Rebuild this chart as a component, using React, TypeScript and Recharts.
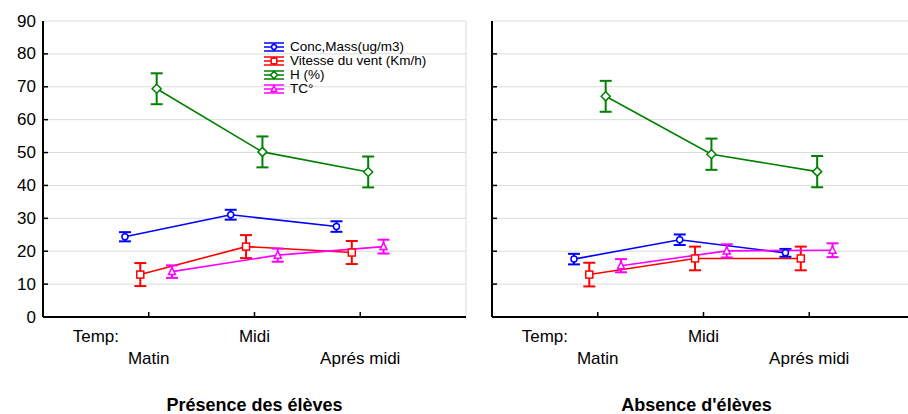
import { CartesianGrid, ErrorBar, Legend, Line, LineChart, XAxis, YAxis } from 'recharts';

const FONT = '"Liberation Sans", Arial, sans-serif';

// catégories de l'axe X (Temp: est juste une étiquette)
const CATEGORIES = ['Matin', 'Midi', 'Aprés midi'];
const X_LABEL_TICKS = [0.5, 1, 2, 3];
const X_GRID_TICKS = [1, 2, 3];
const Y_TICKS = [0, 10, 20, 30, 40, 50, 60, 70, 80, 90];

// Présence des élèves
const concPresence = [24.4, 31.1, 27.5];
const concPresenceErr = [1.4, 1.5, 1.6];
const ventPresence = [12.9, 21.4, 19.6];
const ventPresenceErr = [3.5, 3.5, 3.5];
const hPresence = [69.4, 50.2, 44.1];
const hPresenceErr = [4.7, 4.7, 4.7];
const tcPresence = [13.8, 18.8, 21.4];
const tcPresenceErr = [1.9, 2.0, 2.1];

// Absence d'élèves
const concAbsence = [17.6, 23.5, 19.5];
const concAbsenceErr = [1.6, 1.6, 1.2];
const ventAbsence = [12.9, 17.8, 17.8];
const ventAbsenceErr = [3.6, 3.6, 3.6];
const hAbsence = [67.1, 49.5, 44.2];
const hAbsenceErr = [4.7, 4.75, 4.75];
const tcAbsence = [15.6, 20.1, 20.3];
const tcAbsenceErr = [2.0, 2.0, 2.1];

// décalage horizontal de chaque série autour de la catégorie
const SERIES = [
  { key: 'conc', name: 'Conc,Mass(ug/m3)', color: '#0000ff', shape: 'circle', shift: -0.225 },
  { key: 'vent', name: 'Vitesse du vent (Km/h)', color: '#ff0000', shape: 'square', shift: -0.08 },
  { key: 'h', name: 'H (%)', color: '#008000', shape: 'diamond', shift: 0.075 },
  { key: 'tc', name: 'TC°', color: '#ff00ff', shape: 'triangle', shift: 0.22 },
];

const PRESENCE: Record<string, [number[], number[]]> = {
  conc: [concPresence, concPresenceErr],
  vent: [ventPresence, ventPresenceErr],
  h: [hPresence, hPresenceErr],
  tc: [tcPresence, tcPresenceErr],
};

const ABSENCE: Record<string, [number[], number[]]> = {
  conc: [concAbsence, concAbsenceErr],
  vent: [ventAbsence, ventAbsenceErr],
  h: [hAbsence, hAbsenceErr],
  tc: [tcAbsence, tcAbsenceErr],
};

function buildRows(values: number[], errs: number[], shift: number) {
  return CATEGORIES.map((cat, i) => ({ cat, x: i + 1 + shift, y: values[i], err: errs[i] }));
}

function Marker({ shape, color, cx, cy, size = 1 }: any) {
  if (cx == null || cy == null) return null;
  const p = { fill: '#fff', stroke: color, strokeWidth: 1.5 };
  const k = size;
  if (shape === 'circle') return <circle cx={cx} cy={cy} r={3 * k} {...p} />;
  if (shape === 'square') return <rect x={cx - 3.5 * k} y={cy - 3.5 * k} width={7 * k} height={7 * k} {...p} />;
  if (shape === 'diamond')
    return <polygon points={`${cx},${cy - 4.5 * k} ${cx + 4.5 * k},${cy} ${cx},${cy + 4.5 * k} ${cx - 4.5 * k},${cy}`} {...p} />;
  return <polygon points={`${cx},${cy - 4 * k} ${cx + 3.5 * k},${cy + 3 * k} ${cx - 3.5 * k},${cy + 3 * k}`} {...p} />;
}

function LeftTick({ x, y, payload, showLabel }: any) {
  const v = payload.value;
  return (
    <g>
      {v > 0 && v < 90 && <line x1={x} y1={y} x2={x + 5} y2={y} stroke="#000" strokeWidth={1.5} />}
      {showLabel && (
        <text x={x - 7} y={y} textAnchor="end" dominantBaseline="central" fontSize={17} fontFamily={FONT} fill="#000">
          {v}
        </text>
      )}
    </g>
  );
}

function RightTick({ x, y, payload }: any) {
  const v = payload.value;
  if (v <= 0 || v >= 90) return <g />;
  return <line x1={x - 5} y1={y} x2={x} y2={y} stroke="#000" strokeWidth={1.5} />;
}

function TopTick({ x, y }: any) {
  return <line x1={x} y1={y} x2={x} y2={y + 5} stroke="#000" strokeWidth={1.5} />;
}

function BottomTick({ x, y, payload, index }: any) {
  const v = payload.value;
  const label = v === 0.5 ? 'Temp:' : CATEGORIES[v - 1];
  const row = index % 2;
  return (
    <g>
      {v !== 0.5 && <line x1={x} y1={y} x2={x} y2={y - 5} stroke="#000" strokeWidth={1.5} />}
      <text x={x} y={y + 19 + row * 22} textAnchor="middle" dominantBaseline="central" fontSize={17} fontFamily={FONT} fill="#000">
        {label}
      </text>
    </g>
  );
}

function TitleLabel({ viewBox, text, dx }: any) {
  const { x, y, width, height } = viewBox;
  return (
    <text x={x + width / 2 + dx} y={y + height - 3} textAnchor="middle" fontSize={18} fontWeight={700} fontFamily={FONT} fill="#000">
      {text}
    </text>
  );
}

// légende : même ordre que les séries (le tri par défaut de Recharts est alphabétique)
function ErrLegend({ payload }: any) {
  const entries = (payload || [])
    .map((entry: any) => SERIES.find((it) => it.name === entry.value))
    .filter(Boolean)
    .sort((a: any, b: any) => SERIES.indexOf(a) - SERIES.indexOf(b));
  return (
    <div style={{ fontFamily: FONT, fontSize: 13.5, color: '#000' }}>
      {entries.map((s: any) => (
        <div key={s.key} style={{ display: 'flex', alignItems: 'center', height: 14, lineHeight: '14px', whiteSpace: 'nowrap' }}>
          <svg width={22} height={14} style={{ marginRight: 5 }}>
            <g stroke={s.color} strokeWidth={1.5}>
              <line x1={1} y1={3} x2={21} y2={3} />
              <line x1={1} y1={7} x2={21} y2={7} />
              <line x1={1} y1={11} x2={21} y2={11} />
              <line x1={11} y1={3} x2={11} y2={11} />
            </g>
            <Marker shape={s.shape} color={s.color} cx={11} cy={7} size={0.8} />
          </svg>
          <span>{s.name}</span>
        </div>
      ))}
    </div>
  );
}

const axisLine = { stroke: '#000', strokeWidth: 2 };

function Panel({ data, title, showYLabels, showLegend, titleDx }: any) {
  return (
    <LineChart width={480} height={414} margin={{ top: 21, right: 14, bottom: 0, left: 0 }}>
      <CartesianGrid xAxisId="top" stroke="#dcdcdc" strokeWidth={1} />
      <XAxis
        type="number"
        dataKey="x"
        domain={[0, 4]}
        ticks={X_LABEL_TICKS}
        interval={0}
        height={97}
        tickSize={0}
        tickMargin={0}
        tickLine={false}
        axisLine={axisLine}
        tick={<BottomTick />}
        label={<TitleLabel text={title} dx={titleDx} />}
        allowDataOverflow
      />
      <XAxis
        xAxisId="top"
        orientation="top"
        type="number"
        dataKey="x"
        domain={[0, 4]}
        ticks={X_GRID_TICKS}
        interval={0}
        height={0}
        tickSize={0}
        tickMargin={0}
        tickLine={false}
        axisLine={axisLine}
        tick={<TopTick />}
      />
      <YAxis
        domain={[0, 90]}
        ticks={Y_TICKS}
        interval={0}
        width={43}
        tickSize={0}
        tickMargin={0}
        tickLine={false}
        axisLine={axisLine}
        tick={<LeftTick showLabel={showYLabels} />}
      />
      <YAxis
        yAxisId="right"
        orientation="right"
        domain={[0, 90]}
        ticks={Y_TICKS}
        interval={0}
        width={0}
        tickSize={0}
        tickMargin={0}
        tickLine={false}
        axisLine={axisLine}
        tick={<RightTick />}
      />
      {showLegend && (
        <Legend
          layout="vertical"
          align="center"
          verticalAlign="middle"
          content={<ErrLegend />}
          wrapperStyle={{ left: 263, top: 40, width: 200, height: 56 }}
        />
      )}
      {SERIES.map((s) => {
        const [vals, errs] = data[s.key];
        return (
          <Line
            key={s.key}
            name={s.name}
            data={buildRows(vals, errs, s.shift)}
            dataKey="y"
            stroke={s.color}
            strokeWidth={1.6}
            dot={(props: any) => <Marker key={`${s.key}-${props.index}`} shape={s.shape} color={s.color} cx={props.cx} cy={props.cy} />}
            activeDot={false}
            isAnimationActive={false}
          >
            <ErrorBar dataKey="err" direction="y" width={6} stroke={s.color} strokeWidth={2} />
          </Line>
        );
      })}
    </LineChart>
  );
}

export default function App() {
  return (
    <div style={{ position: 'fixed', left: 0, top: 0, width: 908, height: 414, overflow: 'hidden', background: '#fff' }}>
      <div style={{ position: 'absolute', left: 0, top: 0 }}>
        <Panel data={PRESENCE} title="Présence des élèves" showYLabels showLegend titleDx={0} />
      </div>
      <div style={{ position: 'absolute', left: 449, top: 0 }}>
        <Panel data={ABSENCE} title="Absence d'élèves" showYLabels={false} showLegend={false} titleDx={-7} />
      </div>
    </div>
  );
}
